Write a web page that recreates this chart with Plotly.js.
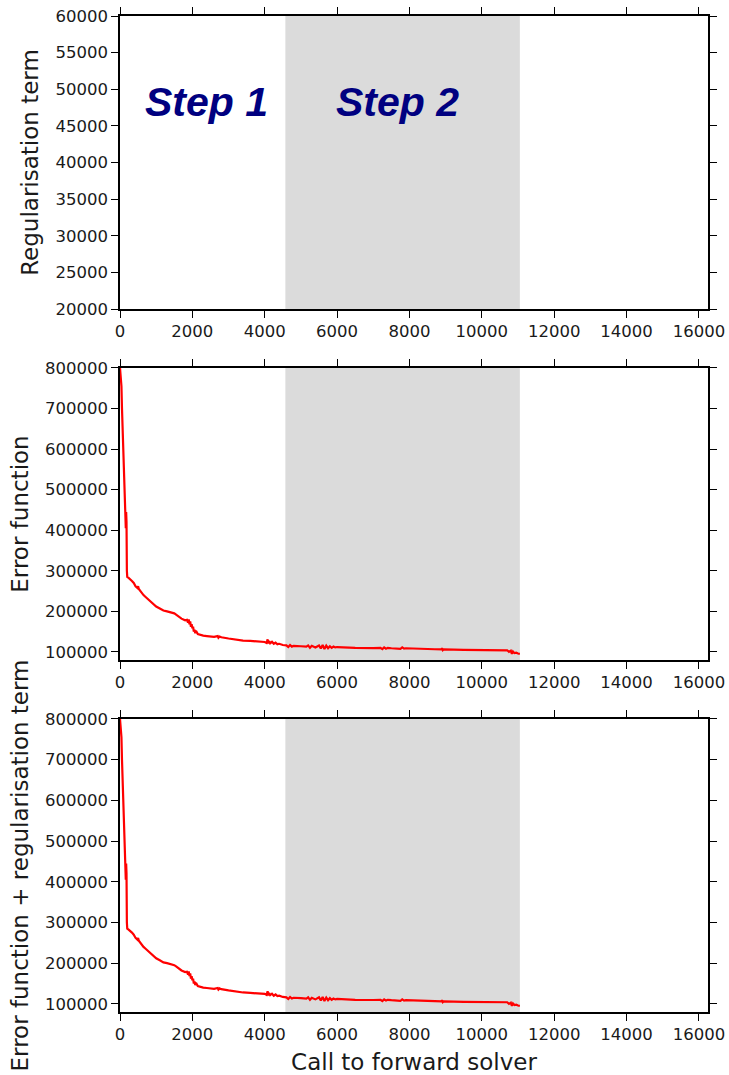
<!DOCTYPE html>
<html>
<head>
<meta charset="utf-8">
<script src="https://cdn.plot.ly/plotly-3.0.1.min.js"></script>
<style>html,body{margin:0;padding:0;background:#fff;}#chart{width:729px;height:1075px;}</style>
</head>
<body>
<div id="chart"></div>
<script>
// ---- data ----
const stepLabels = ["Step 1", "Step 2"];
const stepLabelX = [2390, 7660];
const stepLabelY = [48200, 48200];
const step2Range = [4570, 11050];

// Regularisation term: nothing visible within the 20000-60000 window
const regCalls = [];
const regValues = [];

const calls = [0, 20, 40, 55, 70, 85, 95, 110, 130, 150, 160, 170, 180, 190, 200, 230, 280, 330, 380, 430,
  480, 500, 520, 560, 600, 650, 700, 750, 800, 850, 900, 950, 1000, 1100, 1200, 1300, 1400, 1500, 1550, 1600,
  1650, 1700, 1800, 1850, 1880, 1900, 1920, 1940, 1960, 1980, 2000, 2020, 2040, 2060, 2080, 2100, 2150, 2200, 2300, 2400,
  2500, 2600, 2700, 2720, 2750, 2800, 3000, 3200, 3400, 3600, 3800, 4000, 4050, 4080, 4100, 4120, 4150, 4200, 4250, 4300,
  4350, 4400, 4500, 4600, 4650, 4700, 4750, 4800, 5000, 5150, 5200, 5250, 5300, 5400, 5500, 5550, 5600, 5650, 5700, 5750,
  5800, 5850, 5900, 5950, 6000, 6200, 6500, 7000, 7200, 7250, 7300, 7350, 7400, 7500, 7700, 7750, 7800, 7850, 7900, 8100,
  8300, 8700, 8880, 8900, 8920, 8950, 9500, 10000, 10500, 10700, 10750, 10800, 10830, 10860, 10900, 10950, 11000, 11050];

const errorValues = [800000, 780000, 755000, 700000, 650000, 600000, 580000, 540000, 480000, 430000, 405000, 445000, 420000, 300000, 285000, 283000, 280000, 275000, 270000, 262000,
  258000, 262000, 255000, 250000, 248000, 240000, 236000, 232000, 228000, 222000, 218000, 215000, 212000, 207000, 202000, 200000, 198000, 195000, 192000, 188000,
  185000, 182000, 178000, 179000, 172000, 180000, 168000, 175000, 162000, 168000, 158000, 162000, 150000, 155000, 146000, 152000, 144000, 142000, 140000, 139000,
  138000, 137000, 139000, 135000, 138000, 136000, 133000, 130000, 128000, 127000, 125500, 124500, 122000, 131000, 121000, 127000, 121500, 125000, 120000, 123000,
  119000, 120000, 117000, 116000, 112000, 117000, 113000, 115000, 114000, 113000, 116000, 110000, 115000, 111000, 116000, 108500, 117000, 107000, 115500, 109000,
  114000, 110000, 113000, 111000, 112000, 111000, 110000, 109500, 110000, 107000, 111000, 108000, 110000, 109000, 109000, 107500, 111000, 108000, 109000, 108000,
  107000, 106500, 106000, 109000, 104000, 106000, 105000, 104500, 104000, 104000, 100000, 103000, 95000, 101000, 97000, 98000, 96000, 95000];

// Error function + regularisation term (regularisation negligible at this scale)
const totalValues = [800000, 780000, 755000, 700000, 650000, 600000, 580000, 540000, 480000, 430000, 405000, 445000, 420000, 300000, 285000, 283000, 280000, 275000, 270000, 262000,
  258000, 262000, 255000, 250000, 248000, 240000, 236000, 232000, 228000, 222000, 218000, 215000, 212000, 207000, 202000, 200000, 198000, 195000, 192000, 188000,
  185000, 182000, 178000, 179000, 172000, 180000, 168000, 175000, 162000, 168000, 158000, 162000, 150000, 155000, 146000, 152000, 144000, 142000, 140000, 139000,
  138000, 137000, 139000, 135000, 138000, 136000, 133000, 130000, 128000, 127000, 125500, 124500, 122000, 131000, 121000, 127000, 121500, 125000, 120000, 123000,
  119000, 120000, 117000, 116000, 112000, 117000, 113000, 115000, 114000, 113000, 116000, 110000, 115000, 111000, 116000, 108500, 117000, 107000, 115500, 109000,
  114000, 110000, 113000, 111000, 112000, 111000, 110000, 109500, 110000, 107000, 111000, 108000, 110000, 109000, 109000, 107500, 111000, 108000, 109000, 108000,
  107000, 106500, 106000, 109000, 104000, 106000, 105000, 104500, 104000, 104000, 100000, 103000, 95000, 101000, 97000, 98000, 96000, 95000];

const xTitle = "Call to forward solver";
const yTitles = ["Regularisation term", "Error function", "Error function + regularisation term"];

// ---- styling ----
const tickFont = {family: "DejaVu Sans", size: 16.5, color: "#1a1a1a"};
const titleFont = {family: "DejaVu Sans", size: 23, color: "#1a1a1a"};

function xAx(anchor, withTitle) {
  const a = {
    anchor: anchor, domain: [0, 1], range: [0, 16250], tick0: 0, dtick: 2000, tickformat: "d",
    ticks: "outside", ticklen: 7, tickwidth: 1, tickcolor: "#000",
    showline: true, linecolor: "#000", linewidth: 1.6, mirror: "ticks",
    showgrid: false, zeroline: false, tickfont: tickFont, automargin: false
  };
  if (withTitle) a.title = {text: xTitle, font: titleFont, standoff: 10};
  return a;
}
function yAx(anchor, domain, range, tick0, dtick, title) {
  return {
    anchor: anchor, domain: domain, range: range, tick0: tick0, dtick: dtick, tickformat: "d",
    ticks: "outside", ticklen: 7, tickwidth: 1, tickcolor: "#000",
    showline: true, linecolor: "#000", linewidth: 1.6, mirror: "ticks",
    showgrid: false, zeroline: false, tickfont: tickFont, automargin: false,
    title: {text: title, font: titleFont, standoff: 10}
  };
}

const lineStyle = {color: "#ff0000", width: 2.2};
const traces = [
  {x: regCalls, y: regValues, xaxis: "x", yaxis: "y", mode: "lines", line: lineStyle, hoverinfo: "skip"},
  {x: calls, y: errorValues, xaxis: "x2", yaxis: "y2", mode: "lines", line: lineStyle},
  {x: calls, y: totalValues, xaxis: "x3", yaxis: "y3", mode: "lines", line: lineStyle}
];

const shapes = ["", "2", "3"].map(s => ({
  type: "rect", xref: "x" + s, yref: "y" + s + " domain",
  x0: step2Range[0], x1: step2Range[1], y0: 0, y1: 1,
  fillcolor: "#dbdbdb", line: {width: 0}, layer: "below"
}));

const annotations = stepLabels.map((t, i) => ({
  text: "<b><i>" + t + "</i></b>", x: stepLabelX[i], y: stepLabelY[i], xref: "x", yref: "y",
  showarrow: false, xanchor: "center", yanchor: "middle",
  font: {family: "Liberation Sans", size: 41, color: "#000080"}
}));

const layout = {
  width: 729, height: 1075,
  margin: {l: 120, r: 21, t: 16, b: 63},
  paper_bgcolor: "#fff", plot_bgcolor: "rgba(0,0,0,0)",
  showlegend: false,
  xaxis: xAx("y", false),
  xaxis2: xAx("y2", false),
  xaxis3: xAx("y3", true),
  yaxis: yAx("x", [0.7058, 1], [20000, 60000], 20000, 5000, yTitles[0]),
  yaxis2: yAx("x2", [0.3534, 0.6466], [80000, 800000], 100000, 100000, yTitles[1]),
  yaxis3: yAx("x3", [0, 0.2942], [80000, 800000], 100000, 100000, yTitles[2]),
  shapes: shapes,
  annotations: annotations
};

Plotly.newPlot("chart", traces, layout, {displayModeBar: false, staticPlot: true});
</script>
</body>
</html>
